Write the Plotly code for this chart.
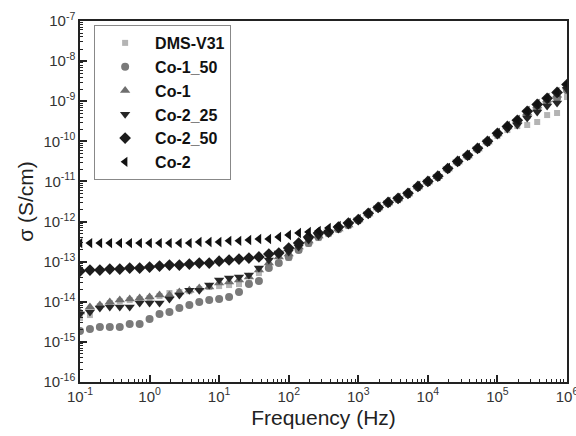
import plotly.graph_objects as go

freq = [0.1, 0.139, 0.193, 0.268, 0.373, 0.518, 0.720, 1.0, 1.39, 1.93,
        2.68, 3.73, 5.18, 7.20, 10.0, 13.9, 19.3, 26.8, 37.3, 51.8,
        72.0, 100.0, 139.0, 193.0, 268.0, 373.0, 518.0, 720.0, 1.0e3, 1.39e3,
        1.93e3, 2.68e3, 3.73e3, 5.18e3, 7.20e3, 1.0e4, 1.39e4, 1.93e4, 2.68e4, 3.73e4,
        5.18e4, 7.20e4, 1.0e5, 1.39e5, 1.93e5, 2.68e5, 3.73e5, 5.18e5, 7.20e5, 1.0e6]

dms_v31 = [3.92e-15, 4.66e-15, 7.81e-15, 9.28e-15, 1.03e-14, 1.10e-14, 1.17e-14, 1.24e-14, 1.39e-14, 1.65e-14,
           1.75e-14, 1.84e-14, 2.07e-14, 2.33e-14, 2.46e-14, 2.61e-14, 2.76e-14, 2.93e-14, 5.19e-14, 7.76e-14,
           9.23e-14, 1.23e-13, 1.94e-13, 2.75e-13, 3.87e-13, 4.87e-13, 6.14e-13, 7.72e-13,
           1.03e-12, 1.46e-12, 2.05e-12, 2.72e-12, 3.43e-12, 4.59e-12, 6.85e-12, 9.12e-12, 1.22e-11, 1.92e-11,
           2.87e-11, 4.06e-11, 6.06e-11, 9.07e-11, 1.36e-10, 1.91e-10, 2.40e-10, 2.55e-10, 3.03e-10, 4.52e-10,
           5.08e-10, 1.27e-9]

co1_50 = [1.86e-15, 2.09e-15, 2.34e-15, 2.34e-15, 2.34e-15, 2.78e-15, 2.78e-15, 3.71e-15, 4.94e-15, 5.54e-15,
          6.96e-15, 8.27e-15, 9.83e-15, 1.10e-14, 1.17e-14, 1.31e-14, 1.75e-14, 2.76e-14, 3.28e-14, 6.92e-14,
          9.23e-14, 1.31e-13, 1.94e-13, 2.91e-13, 4.11e-13, 5.17e-13, 6.50e-13, 8.17e-13,
          1.09e-12, 1.54e-12, 2.17e-12, 2.89e-12, 3.64e-12, 4.86e-12, 7.25e-12, 9.66e-12, 1.30e-11, 2.04e-11,
          3.05e-11, 4.30e-11, 6.42e-11, 9.6e-11, 1.52e-10, 2.27e-10, 2.94e-10, 4.28e-10, 6.37e-10, 9.0e-10,
          1.2e-9, 1.89e-9]

co1 = [5.54e-15, 7.37e-15, 8.27e-15, 9.83e-15, 1.10e-14, 1.17e-14, 1.24e-14, 1.31e-14, 1.47e-14, 1.47e-14,
       1.75e-14, 1.95e-14, 2.20e-14, 2.33e-14, 2.93e-14, 3.10e-14, 3.48e-14, 4.13e-14, 6.18e-14, 9.23e-14,
       1.31e-13, 1.55e-13, 2.31e-13, 3.26e-13, 4.35e-13, 5.48e-13, 6.50e-13, 8.17e-13,
       1.09e-12, 1.54e-12, 2.17e-12, 2.89e-12, 3.64e-12, 4.86e-12, 7.25e-12, 9.66e-12, 1.30e-11, 2.04e-11,
       3.05e-11, 4.30e-11, 6.42e-11, 9.6e-11, 1.52e-10, 2.27e-10, 3.20e-10, 5.08e-10, 7.59e-10, 1.07e-9,
       1.41e-9, 2.25e-9]

co2_25 = [4.94e-15, 5.54e-15, 6.96e-15, 7.37e-15, 7.37e-15, 7.37e-15, 9.28e-15, 9.28e-15, 9.28e-15, 1.17e-14,
          1.47e-14, 1.95e-14, 1.95e-14, 2.61e-14, 3.48e-14, 3.90e-14, 4.13e-14, 4.63e-14, 6.92e-14, 1.10e-13,
          1.64e-13, 1.74e-13, 2.31e-13, 3.46e-13, 4.35e-13, 5.48e-13, 6.50e-13, 8.17e-13,
          1.09e-12, 1.54e-12, 2.17e-12, 2.89e-12, 3.64e-12, 4.86e-12, 7.25e-12, 9.66e-12, 1.30e-11, 2.04e-11,
          3.05e-11, 4.30e-11, 6.42e-11, 9.6e-11, 1.44e-10, 2.03e-10, 2.55e-10, 3.81e-10, 5.38e-10, 7.59e-10,
          9.0e-10, 2.0e-9]

co2_50 = [5.84e-14, 6.18e-14, 6.18e-14, 6.54e-14, 6.54e-14, 6.92e-14, 6.92e-14, 7.33e-14, 7.76e-14, 8.22e-14,
          8.22e-14, 8.71e-14, 9.23e-14, 9.23e-14, 1.03e-13, 1.10e-13, 1.16e-13, 1.23e-13, 1.31e-13, 1.55e-13,
          1.64e-13, 2.18e-13, 2.91e-13, 4.11e-13, 5.17e-13, 5.48e-13, 7.29e-13, 9.17e-13,
          1.12e-12, 1.60e-12, 2.25e-12, 3.0e-12, 3.8e-12, 5.05e-12, 7.5e-12, 1.0e-11, 1.35e-11, 2.1e-11,
          3.15e-11, 4.5e-11, 6.7e-11, 1.0e-10, 1.58e-10, 2.35e-10, 3.35e-10, 5.6e-10, 8.3e-10, 1.18e-9,
          1.66e-9, 2.6e-9]

co2 = [2.9e-13, 2.9e-13, 2.9e-13, 2.9e-13, 2.9e-13, 2.9e-13, 2.9e-13, 2.9e-13, 2.9e-13, 2.9e-13,
       2.9e-13, 2.9e-13, 3.1e-13, 3.1e-13, 3.1e-13, 3.3e-13, 3.3e-13, 3.46e-13, 3.67e-13, 3.67e-13,
       4.11e-13, 4.61e-13, 5.17e-13, 5.48e-13, 5.8e-13, 6.89e-13, 7.72e-13, 9.17e-13,
       1.15e-12, 1.63e-12, 2.30e-12, 3.06e-12, 3.85e-12, 5.14e-12, 7.68e-12, 1.02e-11, 1.37e-11, 2.16e-11,
       3.22e-11, 4.56e-11, 6.81e-11, 1.01e-10, 1.61e-10, 2.40e-10, 3.40e-10, 5.70e-10, 8.5e-10, 1.2e-9,
       1.69e-9, 2.68e-9]

series = [
    ("DMS-V31", dms_v31, "square", "#b4b4b4", 6),
    ("Co-1_50", co1_50, "circle", "#7a7a7a", 8),
    ("Co-1", co1, "triangle-up", "#6e6e6e", 9),
    ("Co-2_25", co2_25, "triangle-down", "#262626", 9),
    ("Co-2_50", co2_50, "diamond", "#1c1c1c", 9),
    ("Co-2", co2, "triangle-left", "#111111", 9),
]

x_tickvals = [1e-1, 1e0, 1e1, 1e2, 1e3, 1e4, 1e5, 1e6]
x_ticktext = ["10<sup>-1</sup>", "10<sup>0</sup>", "10<sup>1</sup>", "10<sup>2</sup>",
              "10<sup>3</sup>", "10<sup>4</sup>", "10<sup>5</sup>", "10<sup>6</sup>"]
y_tickvals = [1e-16, 1e-15, 1e-14, 1e-13, 1e-12, 1e-11, 1e-10, 1e-9, 1e-8, 1e-7]
y_ticktext = ["10<sup>-16</sup>", "10<sup>-15</sup>", "10<sup>-14</sup>", "10<sup>-13</sup>",
              "10<sup>-12</sup>", "10<sup>-11</sup>", "10<sup>-10</sup>", "10<sup>-9</sup>",
              "10<sup>-8</sup>", "10<sup>-7</sup>"]

fig = go.Figure()
for i, (name, vals, sym, col, sz) in enumerate(series):
    fig.add_trace(go.Scatter(
        x=freq, y=vals, mode="markers", name=name, legendgroup=f"g{i}",
        marker=dict(symbol=sym, color=col, size=sz, line=dict(width=0)),
    ))

axis_common = dict(
    type="log", showgrid=False, zeroline=False,
    showline=True, linecolor="#222", linewidth=1.5, mirror=True,
    ticks="inside", ticklen=7, tickwidth=1.5, tickcolor="#222",
    minor=dict(ticks="inside", ticklen=3.5, tickwidth=1, tickcolor="#222", dtick="D1", showgrid=False),
    tickfont=dict(family="Liberation Sans, Arial", size=15, color="#333"),
    automargin=False, ticklabeloverflow="allow",
)

fig.update_xaxes(**axis_common, range=[-1, 6], tickvals=x_tickvals, ticktext=x_ticktext,
                 title=dict(text="Frequency (Hz)", font=dict(family="Liberation Sans, Arial", size=21, color="#222"),
                            standoff=7))
fig.update_yaxes(**axis_common, range=[-16, -7], tickvals=y_tickvals, ticktext=y_ticktext,
                 title=dict(text="σ (S/cm)", font=dict(family="Liberation Sans, Arial", size=21, color="#222"),
                            standoff=4))

fig.update_layout(
    width=576, height=436,
    margin=dict(l=80, r=9, t=21, b=54),
    paper_bgcolor="white", plot_bgcolor="white",
    showlegend=True,
    legend=dict(x=0.029, y=0.989, xanchor="left", yanchor="top",
                bgcolor="white", bordercolor="#888", borderwidth=1,
                font=dict(family="Liberation Sans, Arial", size=16, color="#111", weight="bold"),
                tracegroupgap=0, itemwidth=50),
)

fig.write_html("out.html", config={"displayModeBar": False},
               post_script="document.body.style.margin='0';document.body.style.overflow='hidden';")
